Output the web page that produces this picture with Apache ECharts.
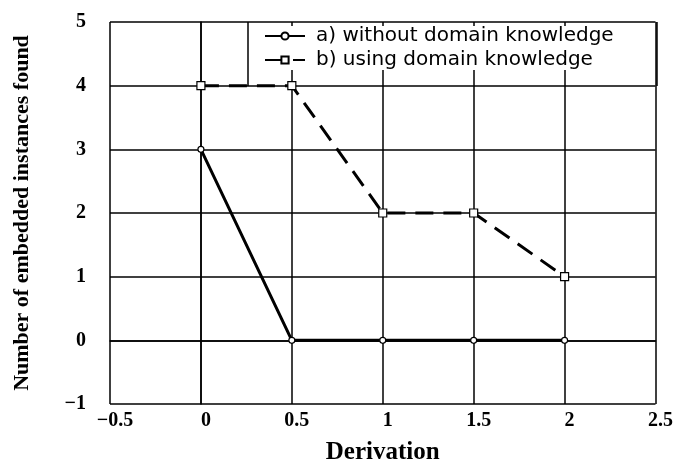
<!DOCTYPE html>
<html><head><meta charset="utf-8">
<script src="https://cdn.jsdelivr.net/npm/echarts@6/dist/echarts.min.js"></script>
<style>html,body{margin:0;padding:0;background:#fff}#c{width:676px;height:474px}</style>
</head><body><div id="c"></div>
<script>
const xValues = [0, 0.5, 1, 1.5, 2];
const seriesA = [3, 0, 0, 0, 0];
const seriesB = [4, 4, 2, 2, 1];
const seriesNames = ['a) without domain knowledge', 'b) using domain knowledge'];

const chart = echarts.init(document.getElementById('c'));
const fmt = v => String(v).replace('-', '\u2212');
const serif = 'Liberation Serif';
chart.setOption({
  animation: false,
  backgroundColor: '#fff',
  grid: {left: 110, right: 18, top: 22, bottom: 70},
  legend: {
    data: seriesNames,
    orient: 'vertical',
    left: 258, top: 26,
    itemGap: 4, itemWidth: 40, itemHeight: 9,
    backgroundColor: '#fff',
    borderWidth: 0,
    padding: [0, 4, 0, 6],
    textStyle: {fontFamily: 'DejaVu Sans', fontSize: 20, color: '#000', padding: [0, 0, 0, 6]}
  },
  graphic: [
    {type: 'line', shape: {x1: 248, y1: 22, x2: 248, y2: 86}, style: {stroke: '#000', lineWidth: 1.5}, z: 100},
    {type: 'line', shape: {x1: 657, y1: 22, x2: 657, y2: 86}, style: {stroke: '#000', lineWidth: 1.5}, z: 100}
  ],
  xAxis: {
    type: 'value', min: -0.5, max: 2.5, interval: 0.5,
    name: 'Derivation', nameLocation: 'middle', nameGap: 36,
    nameTextStyle: {fontFamily: serif, fontWeight: 'bold', fontSize: 25, color: '#000'},
    axisLine: {lineStyle: {color: '#000', width: 1.5}},
    axisTick: {show: false},
    axisLabel: {formatter: fmt, fontFamily: serif, fontWeight: 'bold', fontSize: 20, color: '#000', margin: 7, padding: [0, 0, 0, 10]},
    splitLine: {show: true, lineStyle: {color: '#000', width: 1.5}}
  },
  yAxis: {
    type: 'value', min: -1, max: 5, interval: 1,
    name: 'Number of embedded instances found', nameLocation: 'middle', nameGap: 77,
    nameTextStyle: {fontFamily: serif, fontWeight: 'bold', fontSize: 22, color: '#000'},
    axisLine: {show: true, lineStyle: {color: '#000', width: 1.5}},
    axisTick: {show: false},
    axisLabel: {formatter: fmt, fontFamily: serif, fontWeight: 'bold', fontSize: 20, color: '#000', margin: 24},
    splitLine: {show: true, lineStyle: {color: '#000', width: 1.5}}
  },
  series: [
    {
      name: seriesNames[0], type: 'line',
      data: xValues.map((x, i) => [x, seriesA[i]]),
      symbol: 'circle', symbolSize: 6,
      lineStyle: {color: '#000', width: 3},
      itemStyle: {color: '#fff', borderColor: '#000', borderWidth: 1.2},
      z: 3
    },
    {
      name: seriesNames[1], type: 'line',
      data: xValues.map((x, i) => [x, seriesB[i]]),
      symbol: 'rect', symbolSize: 8,
      lineStyle: {color: '#000', width: 3, type: [18, 10]},
      itemStyle: {color: '#fff', borderColor: '#000', borderWidth: 1.2},
      z: 3
    }
  ]
});
</script></body></html>
